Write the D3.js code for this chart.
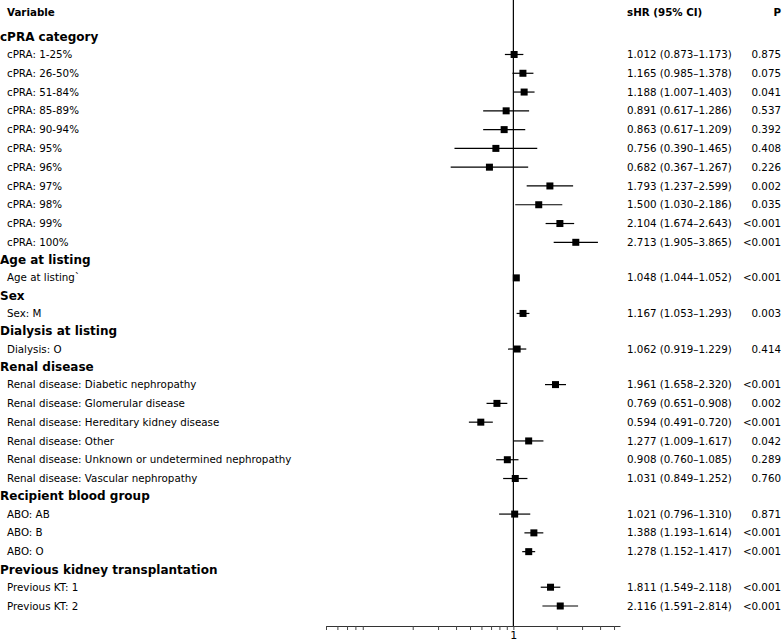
<html>
    <head>
        <script src="https://d3js.org/d3.v7.min.js"></script>
        <style>
            body { margin: 0; background: #fff; }
            text { font-family: "DejaVu Sans", sans-serif; fill: #000; }
        </style>
    </head>
    <body>
        <svg width="782" height="642"></svg>
        <script>
            // group headers and the variables under them
            let groups = ["cPRA category", "Age at listing", "Sex", "Dialysis at listing",
                          "Renal disease", "Recipient blood group", "Previous kidney transplantation"]

            let variables = ["cPRA: 1-25%", "cPRA: 26-50%", "cPRA: 51-84%", "cPRA: 85-89%", "cPRA: 90-94%",
                             "cPRA: 95%", "cPRA: 96%", "cPRA: 97%", "cPRA: 98%", "cPRA: 99%", "cPRA: 100%",
                             "Age at listing`",
                             "Sex: M",
                             "Dialysis: O",
                             "Renal disease: Diabetic nephropathy", "Renal disease: Glomerular disease",
                             "Renal disease: Hereditary kidney disease", "Renal disease: Other",
                             "Renal disease: Unknown or undetermined nephropathy", "Renal disease: Vascular nephropathy",
                             "ABO: AB", "ABO: B", "ABO: O",
                             "Previous KT: 1", "Previous KT: 2"]
            let groupOf = [0,0,0,0,0,0,0,0,0,0,0, 1, 2, 3, 4,4,4,4,4,4, 5,5,5, 6,6]

            let shr   = [1.012, 1.165, 1.188, 0.891, 0.863, 0.756, 0.682, 1.793, 1.500, 2.104, 2.713,
                         1.048, 1.167, 1.062, 1.961, 0.769, 0.594, 1.277, 0.908, 1.031,
                         1.021, 1.388, 1.278, 1.811, 2.116]
            let lower = [0.873, 0.985, 1.007, 0.617, 0.617, 0.390, 0.367, 1.237, 1.030, 1.674, 1.905,
                         1.044, 1.053, 0.919, 1.658, 0.651, 0.491, 1.009, 0.760, 0.849,
                         0.796, 1.193, 1.152, 1.549, 1.591]
            let upper = [1.173, 1.378, 1.403, 1.286, 1.209, 1.465, 1.267, 2.599, 2.186, 2.643, 3.865,
                         1.052, 1.293, 1.229, 2.320, 0.908, 0.720, 1.617, 1.085, 1.252,
                         1.310, 1.614, 1.417, 2.118, 2.814]
            let pval  = ["0.875", "0.075", "0.041", "0.537", "0.392", "0.408", "0.226", "0.002", "0.035", "<0.001", "<0.001",
                         "<0.001", "0.003", "0.414", "<0.001", "0.002", "<0.001", "0.042", "0.289", "0.760",
                         "0.871", "<0.001", "<0.001", "<0.001", "<0.001"]

            let tickValues = [0.05, 0.06, 0.07, 0.08, 0.09, 0.2, 0.3, 0.4, 0.5, 0.6, 0.7, 0.8, 0.9, 1, 2, 3, 4, 5]

            let svg = d3.select("svg")
            let fmt = d3.format(".3f")

            // build the row list: header rows followed by their variables
            let rows = []
            variables.forEach(function(v, i) {
                if (i == 0 || groupOf[i] != groupOf[i - 1]) {
                    rows.push({ type: "header", label: groups[groupOf[i]] })
                }
                rows.push({ type: "item", label: v, hr: shr[i], lo: lower[i], hi: upper[i], p: pval[i] })
            })

            // header rows are a bit shorter than item rows
            let pos = 0
            rows.forEach(function(r, i) {
                if (i > 0) pos += (r.type == "header" || rows[i - 1].type == "header") ? 0.947 : 1
                r.pos = pos
            })

            let yScale = d3.scaleLinear().domain([0, pos]).range([36.7, 606])
            let xScale = d3.scaleLog().domain([0.05, 5.5]).range([326, 620])
            let axisY = 626

            // column titles
            svg.append("text").attr("x", 7).attr("y", 12.5).attr("dy", "0.35em")
               .attr("font-size", "10.3px").attr("font-weight", "bold").text("Variable")
            svg.append("text").attr("x", 627).attr("y", 12.5).attr("dy", "0.35em")
               .attr("font-size", "10.3px").attr("font-weight", "bold").text("sHR (95% CI)")
            svg.append("text").attr("x", 781).attr("y", 12.5).attr("dy", "0.35em")
               .attr("text-anchor", "end")
               .attr("font-size", "10.3px").attr("font-weight", "bold").text("P")

            // reference line at 1
            svg.append("line")
               .attr("x1", xScale(1)).attr("x2", xScale(1))
               .attr("y1", 0).attr("y2", axisY)
               .attr("stroke", "#000").attr("stroke-width", 1.2)

            svg.selectAll(".lab")
               .data(rows)
               .enter().append("text")
               .attr("class", "lab")
               .attr("x", function(d) { return d.type == "header" ? 0 : 7 })
               .attr("y", function(d) { return yScale(d.pos) })
               .attr("dy", "0.35em")
               .attr("font-size", function(d) { return d.type == "header" ? "12px" : "10.3px" })
               .attr("font-weight", function(d) { return d.type == "header" ? "bold" : "normal" })
               .text(function(d) { return d.label })

            let items = rows.filter(function(d) { return d.type == "item" })

            svg.selectAll(".ci")
               .data(items)
               .enter().append("line")
               .attr("class", "ci")
               .attr("x1", function(d) { return xScale(d.lo) })
               .attr("x2", function(d) { return xScale(d.hi) })
               .attr("y1", function(d) { return yScale(d.pos) })
               .attr("y2", function(d) { return yScale(d.pos) })
               .attr("stroke", "#000").attr("stroke-width", 1.2)

            svg.selectAll(".pt")
               .data(items)
               .enter().append("rect")
               .attr("class", "pt")
               .attr("x", function(d) { return xScale(d.hr) - 3.5 })
               .attr("y", function(d) { return yScale(d.pos) - 3.5 })
               .attr("width", 7).attr("height", 7)
               .attr("fill", "#000")

            svg.selectAll(".est")
               .data(items)
               .enter().append("text")
               .attr("class", "est")
               .attr("x", 627)
               .attr("y", function(d) { return yScale(d.pos) })
               .attr("dy", "0.35em")
               .attr("font-size", "10.3px")
               .text(function(d) { return fmt(d.hr) + " (" + fmt(d.lo) + "\u2013" + fmt(d.hi) + ")" })

            svg.selectAll(".pv")
               .data(items)
               .enter().append("text")
               .attr("class", "pv")
               .attr("x", 781)
               .attr("text-anchor", "end")
               .attr("y", function(d) { return yScale(d.pos) })
               .attr("dy", "0.35em")
               .attr("font-size", "10.3px")
               .text(function(d) { return d.p })

            // log axis, only "1" labelled
            let axis = svg.append("g")
               .attr("transform", "translate(0," + axisY + ")")
               .call(d3.axisBottom(xScale).tickValues(tickValues).tickSize(4).tickSizeOuter(0)
                     .tickFormat(function(d) { return d == 1 ? "1" : "" }))
            axis.select(".domain").attr("stroke", "#333")
            axis.selectAll(".tick line").attr("stroke", "#444")
            axis.selectAll(".tick text")
               .attr("font-size", "11px")
               .attr("font-family", "DejaVu Sans, sans-serif")
               .attr("dy", "0.55em")
        </script>
    </body>
</html>
